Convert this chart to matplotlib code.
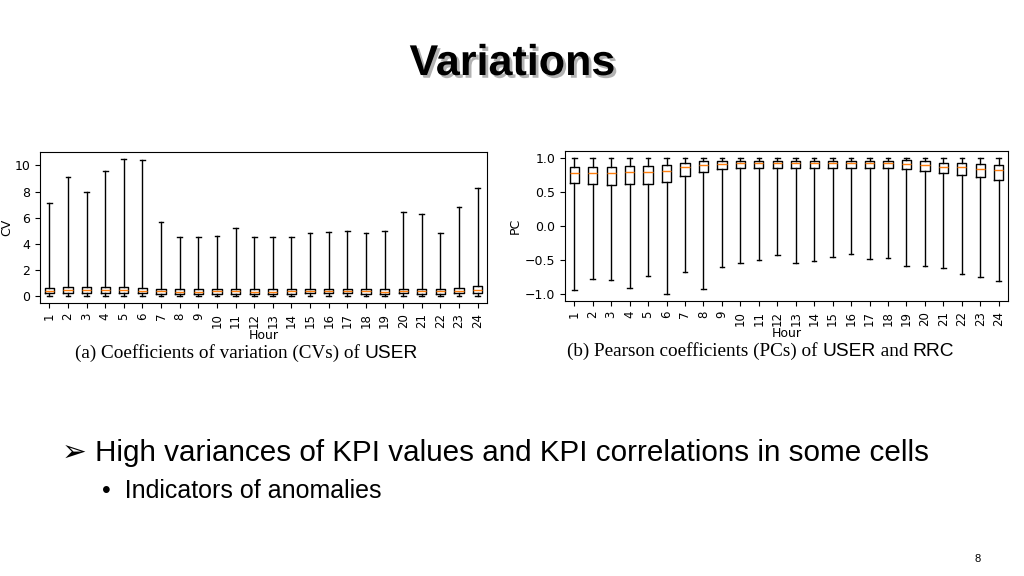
import matplotlib
matplotlib.use('Agg')
import matplotlib.pyplot as plt
import matplotlib.patheffects as pe

hours = list(range(1, 25))

# CV of USER per hour (min, q1, median, q3, max)
cv_max = [7.15, 9.15, 7.95, 9.6, 10.5, 10.4, 5.7, 4.55, 4.55, 4.6, 5.2, 4.55,
          4.55, 4.55, 4.8, 4.9, 5.0, 4.8, 5.0, 6.45, 6.25, 4.85, 6.8, 8.25]
cv_q3 = [0.65, 0.68, 0.68, 0.7, 0.72, 0.65, 0.55, 0.52, 0.52, 0.55, 0.55, 0.52,
         0.52, 0.55, 0.58, 0.58, 0.58, 0.55, 0.52, 0.58, 0.55, 0.55, 0.6, 0.75]
cv_med = [0.42, 0.44, 0.45, 0.45, 0.46, 0.42, 0.36, 0.34, 0.34, 0.36, 0.36, 0.34,
          0.34, 0.36, 0.38, 0.38, 0.38, 0.36, 0.34, 0.38, 0.36, 0.36, 0.4, 0.45]
cv_q1 = [0.25, 0.25, 0.26, 0.26, 0.27, 0.24, 0.2, 0.18, 0.18, 0.2, 0.2, 0.18,
         0.18, 0.2, 0.21, 0.21, 0.21, 0.2, 0.18, 0.21, 0.2, 0.2, 0.22, 0.25]
cv_min = [0.0] * 24

# Pearson coefficient of USER and RRC per hour
pc_max = [1.0] * 24
pc_q3 = [0.87, 0.87, 0.87, 0.88, 0.88, 0.90, 0.92, 0.95, 0.96, 0.96, 0.96, 0.96,
         0.96, 0.96, 0.96, 0.96, 0.96, 0.96, 0.97, 0.95, 0.93, 0.93, 0.91, 0.89]
pc_med = [0.78, 0.78, 0.78, 0.79, 0.79, 0.81, 0.86, 0.89, 0.91, 0.92, 0.92, 0.92,
          0.92, 0.92, 0.92, 0.92, 0.92, 0.92, 0.91, 0.89, 0.87, 0.86, 0.84, 0.82]
pc_q1 = [0.63, 0.62, 0.60, 0.61, 0.62, 0.65, 0.73, 0.79, 0.83, 0.85, 0.85, 0.85,
         0.85, 0.85, 0.85, 0.85, 0.85, 0.85, 0.83, 0.80, 0.78, 0.75, 0.72, 0.68]
pc_min = [-0.94, -0.77, -0.79, -0.91, -0.73, -1.0, -0.68, -0.92, -0.60, -0.54, -0.50, -0.42,
          -0.54, -0.52, -0.45, -0.41, -0.49, -0.47, -0.58, -0.58, -0.61, -0.70, -0.75, -0.81]


def stats(lo, q1, med, q3, hi):
    return [dict(whislo=a, q1=b, med=c, q3=d, whishi=e, fliers=[], label=str(h))
            for a, b, c, d, e, h in zip(lo, q1, med, q3, hi, hours)]


plt.rcParams['font.family'] = ['DejaVu Sans']
fig = plt.figure(figsize=(10.24, 5.76), dpi=100)
W, H = 1024, 576

ax1 = fig.add_axes([40 / W, 1 - 303 / H, 447 / W, 151 / H])
ax1.bxp(stats(cv_min, cv_q1, cv_med, cv_q3, cv_max), showfliers=False)
ax1.set_ylabel('CV', fontsize=9, labelpad=1)
ax1.set_xlabel('Hour', fontsize=9, labelpad=1)
ax1.tick_params(axis='y', labelsize=9)
ax1.tick_params(axis='x', labelrotation=90, labelsize=8.5)

ax2 = fig.add_axes([565 / W, 1 - 301 / H, 443 / W, 150 / H])
ax2.bxp(stats(pc_min, pc_q1, pc_med, pc_q3, pc_max), showfliers=False)
ax2.set_ylabel('PC', fontsize=9, labelpad=2)
ax2.set_xlabel('Hour', fontsize=9, labelpad=1)
ax2.set_yticks([-1.0, -0.5, 0.0, 0.5, 1.0])
ax2.tick_params(axis='y', labelsize=9)
ax2.tick_params(axis='x', labelrotation=90, labelsize=8.5)

# captions with mixed serif / sans pieces
renderer = fig.canvas.get_renderer()


def caption(x, y, pieces):
    for txt, fam in pieces:
        t = fig.text(x / W, 1 - y / H, txt, fontsize=13.8, va='baseline',
                     family=fam)
        x += t.get_window_extent(renderer).width


serif = 'Liberation Serif'
sans = 'Liberation Sans'
caption(75, 358, [('(a) Coefficients of variation (CVs) of ', serif), ('USER', sans)])
caption(567, 356, [('(b) Pearson coefficients (PCs) of ', serif), ('USER', sans),
                   (' and ', serif), ('RRC', sans)])

fig.text(512 / W, 1 - 64 / H, 'Variations', fontsize=31, fontweight='bold',
         family='Liberation Sans', ha='center', va='center',
         path_effects=[pe.withSimplePatchShadow(offset=(2, -2), shadow_rgbFace='gray', alpha=0.6)])

fig.text(62 / W, 1 - 453 / H, '\u27a2 High variances of KPI values and KPI correlations in some cells',
         fontsize=21.3, va='center', family=['Liberation Sans', 'DejaVu Sans'])
fig.text(102 / W, 1 - 491 / H, '\u2022  Indicators of anomalies', fontsize=18,
         va='center', family='Liberation Sans')
fig.text(978 / W, 1 - 559 / H, '8', fontsize=8, va='center', ha='center',
         family='Liberation Sans')

fig.savefig('out.png', dpi=100)
